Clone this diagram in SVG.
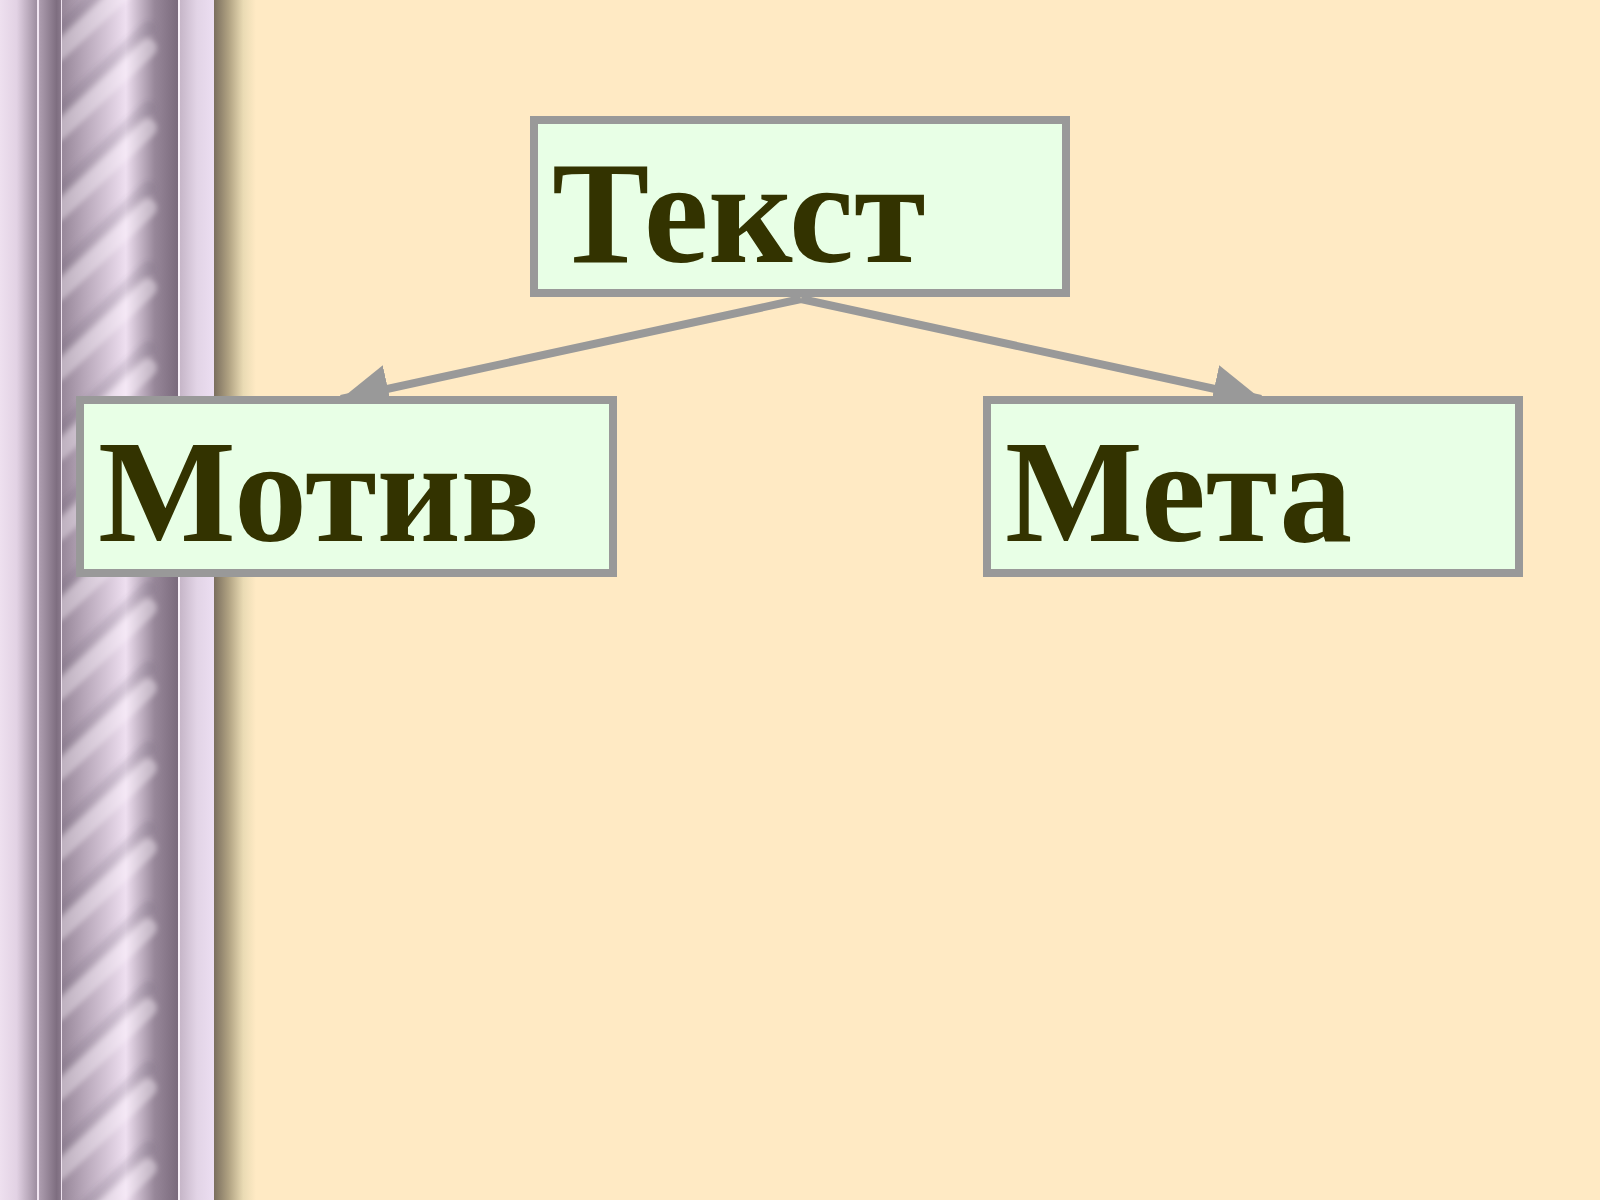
<svg xmlns="http://www.w3.org/2000/svg" width="1600" height="1200" viewBox="0 0 1600 1200">
<defs>
<style>
.box{fill:#E8FFE6;stroke:#999999;stroke-width:8}
.lbl{font-family:"Liberation Serif","Times New Roman",serif;font-weight:bold;font-size:146px;fill:#333300}
.conn{stroke:#999999;stroke-width:8;fill:none}
</style>
<linearGradient id="gA" x1="0" y1="0" x2="1" y2="0">
<stop offset="0" stop-color="#EEE0EF"/><stop offset="0.45" stop-color="#E2D2E4"/><stop offset="1" stop-color="#9E8EA0"/>
</linearGradient>
<linearGradient id="gB" x1="0" y1="0" x2="1" y2="0">
<stop offset="0" stop-color="#AE9EB0"/><stop offset="0.8" stop-color="#7E6E80"/><stop offset="1" stop-color="#8A7A8C"/>
</linearGradient>
<linearGradient id="gC" x1="0" y1="0" x2="1" y2="0">
<stop offset="0" stop-color="#978799"/><stop offset="0.2" stop-color="#B8A8BA"/><stop offset="0.55" stop-color="#EEDFF0"/><stop offset="0.8" stop-color="#978799"/><stop offset="1" stop-color="#7A6A7C"/>
</linearGradient>
<linearGradient id="gD" x1="0" y1="0" x2="1" y2="0">
<stop offset="0" stop-color="#C6B6C8"/><stop offset="0.5" stop-color="#E2D4E6"/><stop offset="1" stop-color="#ECDEF2"/>
</linearGradient>
<linearGradient id="gS" x1="0" y1="0" x2="1" y2="0">
<stop offset="0" stop-color="#7A6E5E"/><stop offset="0.35" stop-color="#B0A282"/><stop offset="0.7" stop-color="#EADBB4"/><stop offset="1" stop-color="#FFEAC4"/>
</linearGradient>
<filter id="soft" x="-20%" y="-20%" width="140%" height="140%"><feGaussianBlur stdDeviation="2.5"/></filter>
<clipPath id="colClip"><rect x="62" y="0" width="116" height="1200"/></clipPath>
<g id="twist" filter="url(#soft)">
<line x1="58" y1="72" x2="148" y2="-12" stroke="#5A4A5C" stroke-opacity="0.16" stroke-width="14" stroke-linecap="round"/>
<line x1="58" y1="92" x2="148" y2="8" stroke="#FFF6FF" stroke-opacity="0.38" stroke-width="18" stroke-linecap="round"/>
</g>
<marker id="arr" markerUnits="userSpaceOnUse" markerWidth="48" markerHeight="48" viewBox="0 0 48 48" refX="48" refY="24" orient="auto">
<path d="M0,0 L48,24 L0,48 z" fill="#999999"/>
</marker>
</defs>
<rect x="0" y="0" width="1600" height="1200" fill="#FFEAC4"/>
<g id="pillar">
<rect x="0" y="0" width="37" height="1200" fill="url(#gA)"/>
<rect x="37" y="0" width="2" height="1200" fill="#F2E6F2"/>
<rect x="39" y="0" width="22" height="1200" fill="url(#gB)"/>
<rect x="61" y="0" width="1.5" height="1200" fill="#EFE3EF"/>
<rect x="62" y="0" width="116" height="1200" fill="url(#gC)"/>
<g clip-path="url(#colClip)">
<use href="#twist" transform="translate(0,-40)"/>
<use href="#twist" transform="translate(0,40)"/>
<use href="#twist" transform="translate(0,120)"/>
<use href="#twist" transform="translate(0,200)"/>
<use href="#twist" transform="translate(0,280)"/>
<use href="#twist" transform="translate(0,360)"/>
<use href="#twist" transform="translate(0,440)"/>
<use href="#twist" transform="translate(0,520)"/>
<use href="#twist" transform="translate(0,600)"/>
<use href="#twist" transform="translate(0,680)"/>
<use href="#twist" transform="translate(0,760)"/>
<use href="#twist" transform="translate(0,840)"/>
<use href="#twist" transform="translate(0,920)"/>
<use href="#twist" transform="translate(0,1000)"/>
<use href="#twist" transform="translate(0,1080)"/>
<use href="#twist" transform="translate(0,1160)"/>
</g>
<rect x="178" y="0" width="2" height="1200" fill="#F8F0F8"/>
<rect x="180" y="0" width="34" height="1200" fill="url(#gD)"/>
<rect x="214" y="0" width="42" height="1200" fill="url(#gS)"/>
</g>
<g id="connectors">
<line class="conn" x1="801" y1="299" x2="341" y2="399" marker-end="url(#arr)"/>
<line class="conn" x1="801" y1="299" x2="1261" y2="399" marker-end="url(#arr)"/>
</g>
<g id="node-tekst">
<rect class="box" x="534" y="120" width="532" height="173"/>
<text class="lbl" x="552" y="262">Текст</text>
</g>
<g id="node-motyv">
<rect class="box" x="80" y="400" width="533" height="173"/>
<text class="lbl" x="98" y="541">Мотив</text>
</g>
<g id="node-meta">
<rect class="box" x="987" y="400" width="532" height="173"/>
<text class="lbl" x="1005" y="541">Мета</text>
</g>
</svg>
